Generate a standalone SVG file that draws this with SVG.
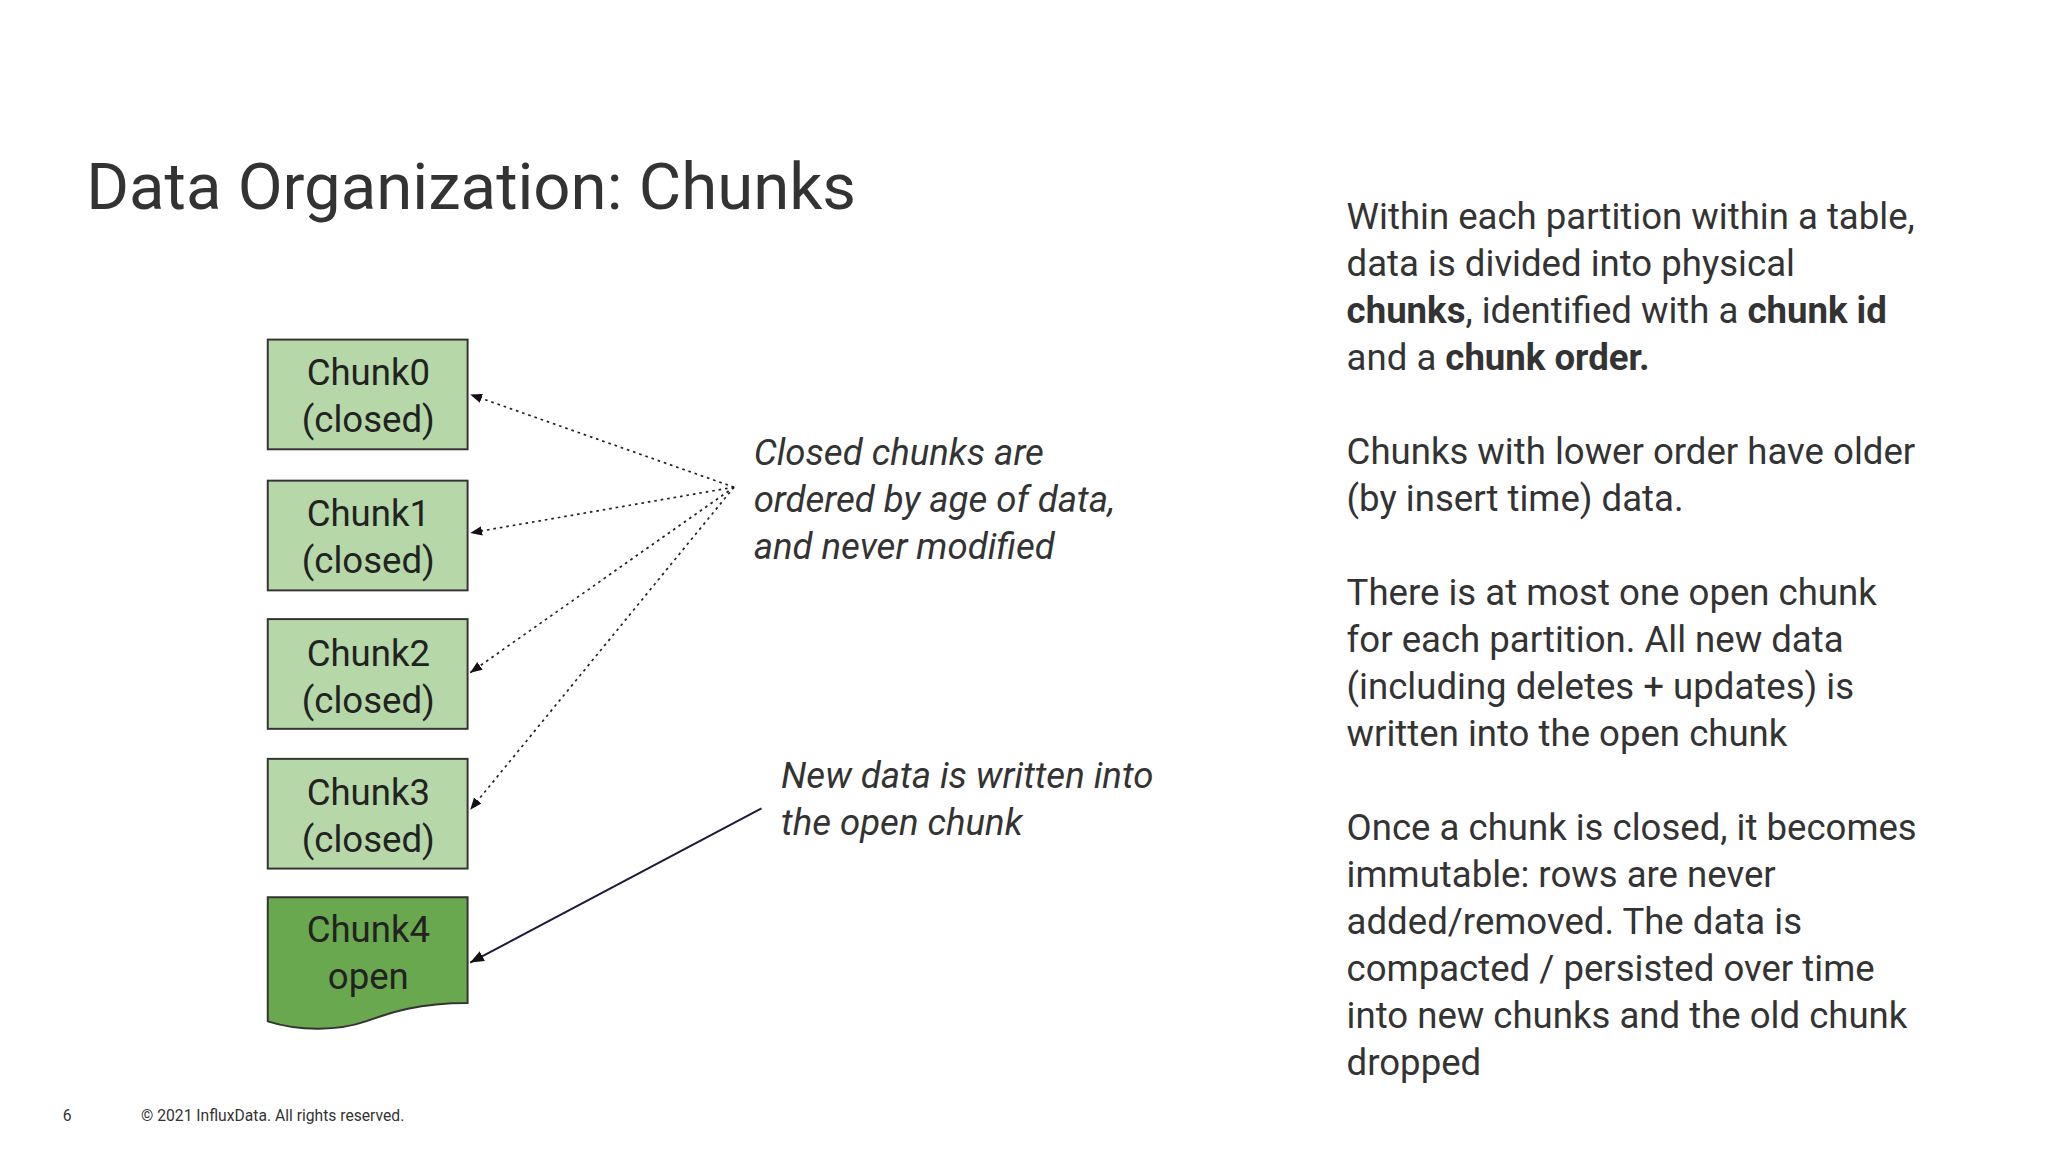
<svg xmlns="http://www.w3.org/2000/svg" width="2048" height="1152" viewBox="0 0 2048 1152">
<style>
text{font-family:Roboto,"Liberation Sans",sans-serif;fill:#333}
.box{stroke:#333;stroke-width:1.5}
.bt{font-size:28px;text-anchor:middle;fill:#222}
.it{font-size:28px;font-style:italic}
.rt{font-size:28px}
.dot{fill:none;stroke:#222;stroke-width:1.3;stroke-dasharray:2 3}
.sol{fill:none;stroke:#1a1a3a;stroke-width:1.5}
</style>
<defs><marker id="ah" viewBox="0 0 10 10" refX="10" refY="5" markerWidth="7" markerHeight="7" orient="auto"><path d="M0,1L10,5L0,9z" fill="#111"/></marker></defs>
<rect width="2048" height="1152" fill="#fff"/>
<g transform="scale(1.30612)">
<text x="66" y="160" font-size="50">Data Organization: Chunks</text>
<g id="chunk0"><rect class="box" x="205" y="260" width="153" height="84" fill="#b6d7a8"/><text class="bt" x="282" y="295">Chunk0</text><text class="bt" x="282" y="331">(closed)</text></g>
<g id="chunk1"><rect class="box" x="205" y="368" width="153" height="84" fill="#b6d7a8"/><text class="bt" x="282" y="403">Chunk1</text><text class="bt" x="282" y="439">(closed)</text></g>
<g id="chunk2"><rect class="box" x="205" y="474" width="153" height="84" fill="#b6d7a8"/><text class="bt" x="282" y="510">Chunk2</text><text class="bt" x="282" y="546">(closed)</text></g>
<g id="chunk3"><rect class="box" x="205" y="581" width="153" height="84" fill="#b6d7a8"/><text class="bt" x="282" y="616">Chunk3</text><text class="bt" x="282" y="652">(closed)</text></g>
<g id="chunk4"><path class="box" d="M205,687H358V768C320,768 300,775 280,782C260,789 230,790 205,782Z" fill="#6aa84f"/><text class="bt" x="282" y="721">Chunk4</text><text class="bt" x="282" y="757">open</text></g>
<g id="connectors">
<path class="dot" d="M562,373L360,302" marker-end="url(#ah)"/>
<path class="dot" d="M562,373L360,408" marker-end="url(#ah)"/>
<path class="dot" d="M562,373L360,515" marker-end="url(#ah)"/>
<path class="dot" d="M562,373L360,620" marker-end="url(#ah)"/>
<path class="sol" d="M583,619L360,737" marker-end="url(#ah)"/>
</g>
<g id="note1"><text class="it" x="577" y="356">Closed chunks are</text><text class="it" x="577" y="392">ordered by age of data,</text><text class="it" x="577" y="428">and never modified</text></g>
<g id="note2"><text class="it" x="598" y="603">New data is written into</text><text class="it" x="598" y="639">the open chunk</text></g>
<g id="right" class="rt">
<text class="rt" x="1031" y="175">Within each partition within a table,</text>
<text class="rt" x="1031" y="211">data is divided into physical</text>
<text class="rt" x="1031" y="247"><tspan font-weight="bold">chunks</tspan>, identified with a <tspan font-weight="bold">chunk id</tspan></text>
<text class="rt" x="1031" y="283">and a <tspan font-weight="bold">chunk order.</tspan></text>
<text class="rt" x="1031" y="355">Chunks with lower order have older</text>
<text class="rt" x="1031" y="391">(by insert time) data.</text>
<text class="rt" x="1031" y="463">There is at most one open chunk</text>
<text class="rt" x="1031" y="499">for each partition. All new data</text>
<text class="rt" x="1031" y="535">(including deletes + updates) is</text>
<text class="rt" x="1031" y="571">written into the open chunk</text>
<text class="rt" x="1031" y="643">Once a chunk is closed, it becomes</text>
<text class="rt" x="1031" y="679">immutable:  rows are never</text>
<text class="rt" x="1031" y="715">added/removed. The data is</text>
<text class="rt" x="1031" y="751">compacted / persisted over time</text>
<text class="rt" x="1031" y="787">into new chunks and the old chunk</text>
<text class="rt" x="1031" y="823">dropped</text>
</g>
<text x="48" y="858" font-size="12">6</text>
<text x="108" y="858" font-size="12">© 2021 InfluxData. All rights reserved.</text>
</g>
</svg>
